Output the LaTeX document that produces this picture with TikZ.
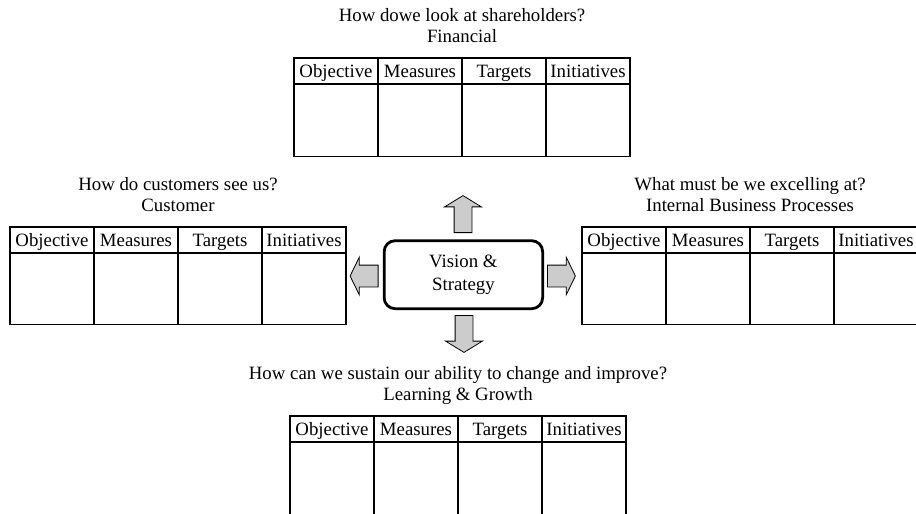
\documentclass[tikz,border=0pt]{standalone}
\usepackage{fontspec}
\setmainfont{Liberation Serif}
\usetikzlibrary{shapes.arrows}
\definecolor{arrowgray}{HTML}{CCCCCC}
\tikzset{
  x=1pt, y=-1pt,
  every node/.style={font=\fontsize{18.8}{22}\selectfont},
  grid/.style={draw, line width=1.3pt},
  hcell/.style={grid, minimum width=84pt, minimum height=26pt, inner sep=0pt},
  bcell/.style={grid, minimum width=84pt, inner sep=0pt},
  hlabel/.style={anchor=base, inner sep=0pt},
  caption/.style={anchor=base, inner sep=0pt},
  core/.style={draw, line width=2.8pt, rounded corners=11pt, minimum width=158.5pt,
    minimum height=68pt, align=center, font=\fontsize{18.8}{23}\selectfont},
  blockarrow/.style={single arrow, draw, fill=arrowgray, line width=0.8pt,
    inner xsep=0pt, anchor=tail},
  harrow/.style={blockarrow, inner ysep=10.5pt, minimum height=28pt, minimum width=37pt,
    single arrow head extend=8pt, single arrow tip angle=128},
  varrow/.style={blockarrow, inner ysep=8.5pt, minimum height=37pt, minimum width=36pt,
    single arrow head extend=9.5pt, single arrow tip angle=117},
}
% One perspective: question, perspective name and a 4-column table.
% #1 name, #2 left x, #3 top y, #4 question, #5 perspective, #6 body height
\newcommand{\perspective}[6]{%
  \begin{scope}[shift={(#2,#3)}]
    \node[caption] (#1-q) at (168,-37) {#4};
    \node[caption] (#1-p) at (168,-16) {#5};
    \foreach \c/\t [count=\i from 0] in {obj/Objective,mea/Measures,tar/Targets,ini/Initiatives}{
      \node[hcell] (#1-\c) at (42+84*\i,13) {};
      \node[hlabel] (#1-\c-t) at (42+84*\i,19) {\t};
      \node[bcell, minimum height=#6pt, anchor=north] (#1-\c-b) at (42+84*\i,26) {};
    }
  \end{scope}}
\begin{document}
\begin{tikzpicture}
  \useasboundingbox (0,0) rectangle (916,514);
  \perspective{fin}{294}{58}{How dowe look at shareholders?}{Financial}{72}
  \perspective{cus}{10}{227}{How do customers see us?}{Customer}{71}
  \perspective{ibp}{582}{227}{What must be we excelling at?}{Internal Business Processes}{71}
  \perspective{lng}{290}{416}{How can we sustain our ability to change and improve?}{Learning \& Growth}{80}
  % centre of the scorecard
  \node[core] (vision) at (463.4,274.7) {Vision \&\\Strategy};
  \node[varrow, rotate=90] (up) at (463,233) {};
  \node[varrow, rotate=-90] (down) at (464,315) {};
  \node[harrow, rotate=180] (left) at (378.5,276) {};
  \node[harrow] (right) at (547,276) {};
\end{tikzpicture}
\end{document}
